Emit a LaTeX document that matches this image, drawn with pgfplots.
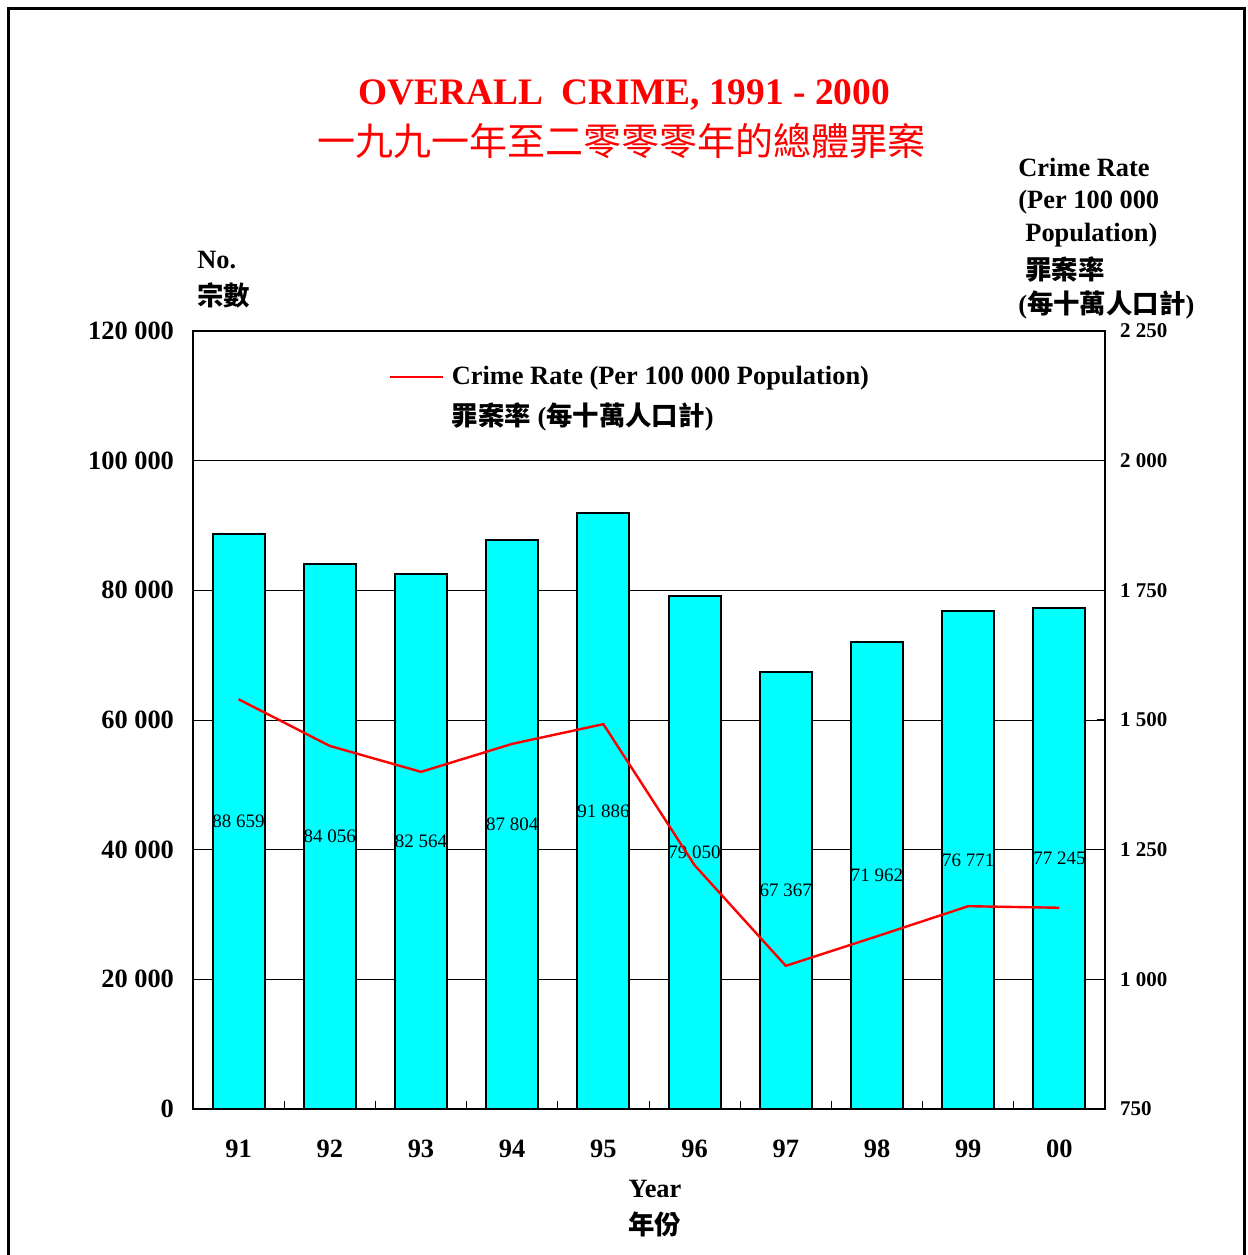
\documentclass[border=0pt]{standalone}
\usepackage{fontspec}
\setmainfont{Liberation Serif}
\newfontfamily\cjk{Noto Sans CJK TC}
\usepackage{pgfplots}
\usepackage{pgfplotstable}
\pgfplotsset{compat=1.18}
\definecolor{aqua}{RGB}{0,255,255}
\pgfplotstableread[col sep=comma]{
x,v,lab
0.5,88659,88 659
1.5,84056,84 056
2.5,82564,82 564
3.5,87804,87 804
4.5,91886,91 886
5.5,79050,79 050
6.5,67367,67 367
7.5,71962,71 962
8.5,76771,76 771
9.5,77245,77 245
}\crimedata
\pgfplotstableread{
x r
0.5 1540
1.5 1450
2.5 1400
3.5 1454
4.5 1492
5.5 1220
6.5 1026
7.5 1083
8.5 1141
9.5 1138
}\ratedata
\newcommand{\lbl}{\fontsize{13.2}{15}\selectfont\bfseries}
\begin{document}
\begin{tikzpicture}[x=1pt,y=1pt]
\useasboundingbox (-96.5,-73) rectangle (527.5,554.5);
\draw[line width=1.5pt] (-92,-90) -- (-92,550) -- (525.5,550) -- (525.5,-90);
\begin{axis}[
  at={(0pt,0pt)}, anchor=south west,
  scale only axis, width=456pt, height=389pt,
  xmin=0, xmax=10, ymin=0, ymax=120000,
  scaled y ticks=false,
  ytick={0,20000,40000,60000,80000,100000,120000},
  yticklabels={0,20 000,40 000,60 000,80 000,100 000,120 000},
  ymajorgrids, grid style={black, line width=0.5pt},
  xtick pos=bottom, ytick pos=left,
  tick align=inside,
  xtick={0.5,1.5,...,9.5},
  xticklabels={91,92,93,94,95,96,97,98,99,00},
  major x tick style={draw=none},
  minor xtick={1,2,...,9},
  minor tick length=4pt, major tick length=4pt,
  tick style={black, line width=0.5pt},
  axis line style={line width=0.6pt},
  yticklabel style={font=\lbl, xshift=-6pt},
  xticklabel style={font=\lbl, yshift=-12pt},
]
\addplot[ybar, bar width=0.57, bar shift=0pt, fill=aqua, draw=black, line width=1pt] table[x=x, y=v] {\crimedata};
\addplot[draw=none, mark=none, nodes near coords, point meta=explicit symbolic,
  every node near coord/.append style={anchor=center, black, font=\fontsize{9.5}{11}\selectfont}]
  table[x=x, y expr=\thisrow{v}/2, meta=lab] {\crimedata};
\end{axis}
\begin{axis}[
  at={(0pt,0pt)}, anchor=south west,
  scale only axis, width=456pt, height=389pt,
  xmin=0, xmax=10, ymin=750, ymax=2250,
  axis x line=none, axis y line*=right,
  ytick={750,1000,1250,1500,1750,2000,2250},
  yticklabels={750,1 000,1 250,1 500,1 750,2 000,2 250},
  tick align=inside, major tick length=4pt,
  tick style={black, line width=0.5pt},
  axis line style={line width=0.6pt},
  yticklabel style={font=\fontsize{10.5}{12}\selectfont\bfseries, xshift=4pt},
  legend style={draw=none, fill=none, at={(rel axis cs:0.2138,0.955)}, anchor=north west,
    font=\lbl, row sep=7.5pt, column sep=4pt, inner sep=0pt, nodes={inner sep=0pt}},
  legend cell align=left,
]
\addplot[red, line width=1.2pt, mark=none,
  legend image code/.code={\draw[red, line width=1.2pt] (0pt,0pt) -- (26.5pt,0pt);}] table[x=x, y=r] {\ratedata};
\addlegendentry{Crime Rate (Per 100 000 Population)}
\addlegendimage{empty legend}
\addlegendentry{{\cjk 罪案率} ({\cjk 每十萬人口計})}
\end{axis}
\node[red, font=\fontsize{18.7}{22}\selectfont\bfseries] at (215.5,507) {OVERALL\ \ CRIME, 1991 - 2000};
\node[red, font=\fontsize{19}{22}\selectfont\cjk] at (214.5,484) {一九九一年至二零零零年的總體罪案};
\node[anchor=west, font=\lbl, inner sep=0pt] at (2,424.5) {No.};
\node[anchor=west, font=\lbl\cjk, inner sep=0pt] at (2,407) {宗數};
\node[anchor=west, font=\lbl, inner sep=0pt] at (412.5,471) {Crime Rate};
\node[anchor=west, font=\lbl, inner sep=0pt] at (412.5,453.5) {(Per 100 000};
\node[anchor=west, font=\lbl, inner sep=0pt] at (416,437) {Population)};
\node[anchor=west, font=\lbl\cjk, inner sep=0pt] at (416,419.5) {罪案率};
\node[anchor=west, font=\lbl, inner sep=0pt] at (412.5,402) {({\cjk 每十萬人口計})};
\node[font=\lbl, inner sep=0pt] at (231,-40) {Year};
\node[font=\lbl\cjk, inner sep=0pt] at (231,-57.5) {年份};
\end{tikzpicture}
\end{document}
